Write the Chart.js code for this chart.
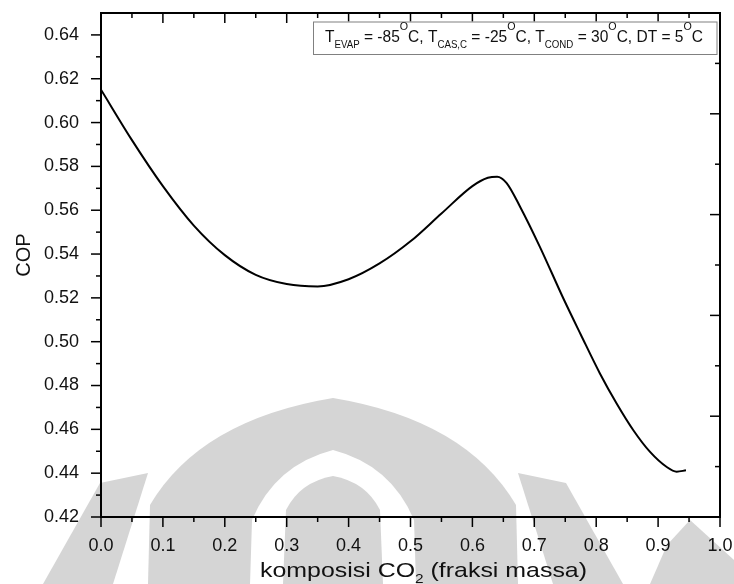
<!DOCTYPE html>
<html>
<head>
<meta charset="utf-8">
<script src="https://cdn.jsdelivr.net/npm/chart.js@4.4.1/dist/chart.umd.min.js"></script>
<style>
  html, body { margin: 0; padding: 0; background: #fff; }
  #wrap { width: 734px; height: 584px; }
</style>
</head>
<body>
<div id="wrap"><canvas id="grafik" width="734" height="584"></canvas></div>
<script>
// data
const fraksiCO2 = [0.000, 0.050, 0.100, 0.150, 0.200, 0.250, 0.300, 0.350, 0.400, 0.450,
                   0.500, 0.550, 0.600, 0.625, 0.640, 0.655, 0.677, 0.709, 0.747, 0.775,
                   0.806, 0.833, 0.860, 0.887, 0.914, 0.930, 0.945];
const nilaiCOP  = [0.6150, 0.5920, 0.5710, 0.5530, 0.5395, 0.5305, 0.5263, 0.5252, 0.5285, 0.5357,
                   0.5458, 0.5585, 0.5710, 0.5748, 0.5753, 0.5725, 0.5616, 0.5433, 0.5197, 0.5033,
                   0.4855, 0.4718, 0.4596, 0.4497, 0.4428, 0.4407, 0.4413];

const xTicks = [0.0, 0.1, 0.2, 0.3, 0.4, 0.5, 0.6, 0.7, 0.8, 0.9, 1.0];
const yTicks = [0.42, 0.44, 0.46, 0.48, 0.50, 0.52, 0.54, 0.56, 0.58, 0.60, 0.62, 0.64];
const rightTicks = [0, 1, 2, 3, 4, 5];   // sumbu kanan (tanpa label)

const FONT = "'Liberation Sans', Arial, sans-serif";

function midpoints(arr) {
    let out = [];
    for (let i = 0; i < arr.length - 1; i++) out.push((arr[i] + arr[i + 1]) / 2);
    return out;
}

// -----------------------------
// teks dengan subscript / superscript
// -----------------------------
function drawRuns(ctx, runs, x, y, width, size) {
    const sizes = { n: size.n, sub: size.sub, sup: size.sup };
    const shift = { n: 0, sub: size.subShift, sup: size.supShift };
    let total = 0;
    runs.forEach(r => {
        ctx.font = sizes[r.s] + "px " + FONT;
        r.w = ctx.measureText(r.t).width;
        total += r.w;
    });
    const sx = width / total;
    ctx.save();
    ctx.translate(x, y);
    ctx.scale(sx, 1);
    let cx = 0;
    runs.forEach(r => {
        ctx.font = sizes[r.s] + "px " + FONT;
        ctx.fillText(r.t, cx, shift[r.s]);
        cx += r.w;
    });
    ctx.restore();
}

// watermark abu-abu di latar belakang
const latar = {
    id: 'latar',
    beforeDraw(chart) {
        const ctx = chart.ctx;
        ctx.save();
        ctx.fillStyle = '#fff';
        ctx.fillRect(0, 0, chart.width, chart.height);
        ctx.fillStyle = '#d5d5d5';
        const poly = pts => {
            ctx.beginPath();
            ctx.moveTo(pts[0][0], pts[0][1]);
            for (let i = 1; i < pts.length; i++) ctx.lineTo(pts[i][0], pts[i][1]);
            ctx.closePath();
            ctx.fill();
        };
        // lengkung besar
        ctx.beginPath();
        ctx.moveTo(148, 584);
        ctx.lineTo(150, 505);
        ctx.quadraticCurveTo(200, 420, 333, 398);
        ctx.quadraticCurveTo(466, 420, 516, 505);
        ctx.lineTo(518, 584);
        ctx.closePath();
        ctx.fill();
        // lengkung dalam putih
        ctx.fillStyle = '#fff';
        ctx.beginPath();
        ctx.moveTo(250, 584);
        ctx.lineTo(252, 520);
        ctx.quadraticCurveTo(275, 465, 333, 450);
        ctx.quadraticCurveTo(391, 465, 414, 520);
        ctx.lineTo(416, 584);
        ctx.closePath();
        ctx.fill();
        // tiang tengah
        ctx.fillStyle = '#d5d5d5';
        ctx.beginPath();
        ctx.moveTo(283, 584);
        ctx.lineTo(286, 510);
        ctx.quadraticCurveTo(300, 482, 333, 476);
        ctx.quadraticCurveTo(366, 482, 380, 510);
        ctx.lineTo(383, 584);
        ctx.closePath();
        ctx.fill();
        // sayap kiri dan kanan
        poly([[43, 584], [100, 483], [148, 473], [113, 584]]);
        poly([[623, 584], [566, 483], [518, 473], [553, 584]]);
        poly([[650, 584], [667, 545], [690, 520], [734, 560], [734, 584]]);
        ctx.restore();
    }
};

// bingkai, tick, judul sumbu, kotak keterangan
const bingkai = {
    id: 'bingkai',
    afterDraw(chart) {
        const ctx = chart.ctx;
        const a = chart.chartArea;
        const sx = chart.scales.x, sy = chart.scales.y, sr = chart.scales.y2;
        ctx.save();
        ctx.strokeStyle = '#000';
        ctx.lineWidth = 1.5;
        const line = (x1, y1, x2, y2) => {
            ctx.beginPath(); ctx.moveTo(x1, y1); ctx.lineTo(x2, y2); ctx.stroke();
        };
        // tick bawah & atas
        xTicks.forEach(v => {
            const px = sx.getPixelForValue(v);
            line(px, a.bottom, px, a.bottom + 10);
            line(px, a.top, px, a.top + 10);
        });
        midpoints(xTicks).forEach(v => {
            const px = sx.getPixelForValue(v);
            line(px, a.bottom, px, a.bottom + 5);
            line(px, a.top, px, a.top + 5);
        });
        // tick kiri
        yTicks.forEach(v => {
            const py = sy.getPixelForValue(v);
            line(a.left - 10, py, a.left, py);
        });
        midpoints(yTicks).forEach(v => {
            const py = sy.getPixelForValue(v);
            line(a.left - 5, py, a.left, py);
        });
        // tick kanan
        rightTicks.forEach(v => {
            const py = sr.getPixelForValue(v);
            line(a.right - 10, py, a.right, py);
        });
        midpoints(rightTicks).forEach(v => {
            const py = sr.getPixelForValue(v);
            line(a.right - 5, py, a.right, py);
        });
        // bingkai
        ctx.lineWidth = 2;
        ctx.strokeRect(a.left, a.top, a.right - a.left, a.bottom - a.top);

        // judul sumbu y
        ctx.fillStyle = '#111';
        ctx.save();
        ctx.translate(24.5, 255);
        ctx.rotate(-Math.PI / 2);
        ctx.font = "20px " + FONT;
        ctx.textAlign = 'center';
        ctx.textBaseline = 'middle';
        ctx.fillText('COP', 0, 0);
        ctx.restore();

        // judul sumbu x
        drawRuns(ctx, [
            { t: 'komposisi CO', s: 'n' },
            { t: '2', s: 'sub' },
            { t: ' (fraksi massa)', s: 'n' }
        ], 260, 577, 327, { n: 21, sub: 13, sup: 13, subShift: 6, supShift: -10 });

        // kotak keterangan
        const bx = a.right - 407, by = a.top + 8.5, bw = 403.5, bh = 32.5;
        ctx.fillStyle = '#fff';
        ctx.fillRect(bx, by, bw, bh);
        ctx.strokeStyle = '#808080';
        ctx.lineWidth = 1;
        ctx.strokeRect(bx + 0.5, by + 0.5, bw, bh);
        ctx.fillStyle = '#111';
        drawRuns(ctx, [
            { t: 'T', s: 'n' }, { t: 'EVAP', s: 'sub' }, { t: ' = -85', s: 'n' }, { t: 'O', s: 'sup' },
            { t: 'C, T', s: 'n' }, { t: 'CAS,C', s: 'sub' }, { t: ' = -25', s: 'n' }, { t: 'O', s: 'sup' },
            { t: 'C, T', s: 'n' }, { t: 'COND', s: 'sub' }, { t: ' = 30', s: 'n' }, { t: 'O', s: 'sup' },
            { t: 'C, DT = 5', s: 'n' }, { t: 'O', s: 'sup' }, { t: 'C', s: 'n' }
        ], bx + 12, by + 20, 378, { n: 16, sub: 10, sup: 11, subShift: 6, supShift: -12 });
        ctx.restore();
    }
};

const ctx = document.getElementById('grafik');

let grafik = new Chart(ctx, {
    type: 'line',
    data: {
        datasets: [{
            label: 'COP',
            data: fraksiCO2.map((x, i) => ({ x: x, y: nilaiCOP[i] })),
            borderColor: '#000',
            borderWidth: 2,
            pointRadius: 0,
            fill: false,
            cubicInterpolationMode: 'monotone',
            yAxisID: 'y'
        }]
    },
    options: {
        responsive: false,
        animation: false,
        devicePixelRatio: 1,
        layout: { padding: { top: 13, right: 14, left: 0, bottom: 0 } },
        plugins: { legend: { display: false }, tooltip: { enabled: false } },
        scales: {
            x: {
                type: 'linear',
                min: 0, max: 1,
                afterBuildTicks: s => { s.ticks = xTicks.map(v => ({ value: v })); },
                afterFit: s => { s.height = 67; s.paddingLeft = 0; s.paddingRight = 0; },
                grid: { display: false },
                border: { display: false },
                ticks: {
                    callback: v => v.toFixed(1),
                    font: { family: FONT, size: 18 },
                    color: '#111',
                    padding: 10,
                    maxRotation: 0,
                    autoSkip: false
                }
            },
            y: {
                type: 'linear',
                min: 0.42, max: 0.65,
                afterBuildTicks: s => { s.ticks = yTicks.map(v => ({ value: v })); },
                afterFit: s => { s.width = 101; s.paddingTop = 0; s.paddingBottom = 0; },
                grid: { display: false },
                border: { display: false },
                ticks: {
                    callback: v => v.toFixed(2),
                    font: { family: FONT, size: 18 },
                    color: '#111',
                    padding: 14,
                    autoSkip: false
                }
            },
            y2: {
                type: 'linear',
                position: 'right',
                min: 0, max: 5,
                afterFit: s => { s.width = 0; s.paddingTop = 0; s.paddingBottom = 0; },
                grid: { display: false },
                border: { display: false },
                ticks: { display: false }
            }
        }
    },
    plugins: [latar, bingkai]
});
</script>
</body>
</html>
